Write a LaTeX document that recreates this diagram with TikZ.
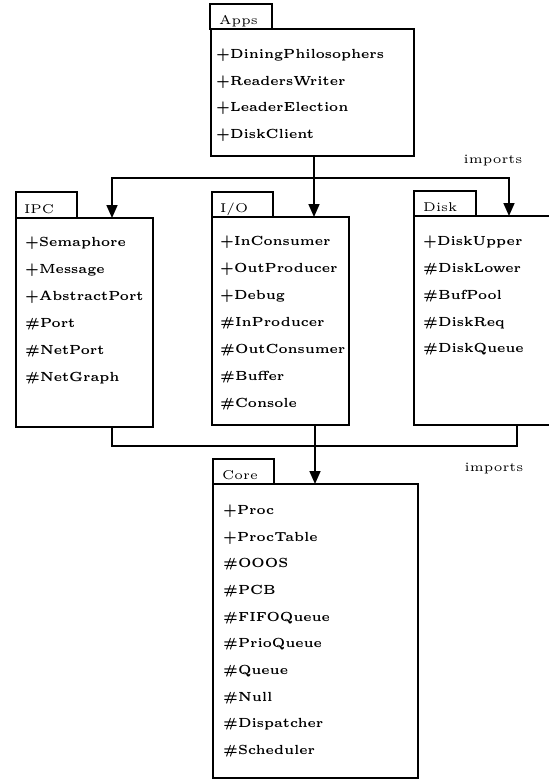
\documentclass[tikz,border=0pt]{standalone}
\usepackage{graphicx}
\usetikzlibrary{arrows.meta,calc}

% Small-design-size Latin Modern, enlarged: wide, heavy letterforms
\newcommand\itemtext[1]{\scalebox{2.39}[2.64]{\fontsize{5}{6}\selectfont\bfseries #1}}
\newcommand\tabtext[1]{\scalebox{2.55}{\fontsize{5}{6}\selectfont #1}}

\tikzset{
  x=1pt, y=-1pt,
  pkgline/.style={line width=1.7pt},
  pkgbox/.style={draw, pkgline, inner sep=0pt, outer sep=0pt, anchor=north west},
  member/.style={anchor=base west, inner sep=0pt},
  tablabel/.style={anchor=base west, inner sep=0pt},
  note/.style={anchor=base, inner sep=0pt},
  conn/.style={pkgline},
  dep/.style={pkgline, -{Triangle[width=11pt,length=13pt]}},
}

\begin{document}
\begin{tikzpicture}
\useasboundingbox (0,0) rectangle (549,780);
\clip (0,0) rectangle (549,780);

% ---------------- Apps ----------------
\node[pkgbox, minimum width=62pt, minimum height=25pt] (appstab) at (210,4) {};
\node[pkgbox, fill=white, minimum width=203pt, minimum height=127pt] (apps) at (211,29) {};
\node[tablabel] (appsname) at (219,24) {\tabtext{Apps}};
\node[member] (a1) at (216,58)  {\itemtext{+DiningPhilosophers}};
\node[member] (a2) at (216,85)  {\itemtext{+ReadersWriter}};
\node[member] (a3) at (216,111) {\itemtext{+LeaderElection}};
\node[member] (a4) at (216,138) {\itemtext{+DiskClient}};

% ---------------- IPC ----------------
\node[pkgbox, minimum width=61pt, minimum height=26pt] (ipctab) at (16,192) {};
\node[pkgbox, fill=white, minimum width=137pt, minimum height=209pt] (ipc) at (16,218) {};
\node[tablabel] (ipcname) at (24,213) {\tabtext{IPC}};
\node[member] (p1) at (25,246) {\itemtext{+Semaphore}};
\node[member] (p2) at (25,273) {\itemtext{+Message}};
\node[member] (p3) at (25,300) {\itemtext{+AbstractPort}};
\node[member] (p4) at (25,327) {\itemtext{\#Port}};
\node[member] (p5) at (25,354) {\itemtext{\#NetPort}};
\node[member] (p6) at (25,381) {\itemtext{\#NetGraph}};

% ---------------- I/O ----------------
\node[pkgbox, minimum width=61pt, minimum height=25pt] (iotab) at (212,192) {};
\node[pkgbox, fill=white, minimum width=137pt, minimum height=208pt] (io) at (212,217) {};
\node[tablabel] (ioname) at (220,212) {\tabtext{I/O}};
\node[member] (i1) at (220,245) {\itemtext{+InConsumer}};
\node[member] (i2) at (220,272) {\itemtext{+OutProducer}};
\node[member] (i3) at (220,299) {\itemtext{+Debug}};
\node[member] (i4) at (220,326) {\itemtext{\#InProducer}};
\node[member] (i5) at (220,353) {\itemtext{\#OutConsumer}};
\node[member] (i6) at (220,380) {\itemtext{\#Buffer}};
\node[member] (i7) at (220,407) {\itemtext{\#Console}};

% ---------------- Disk ----------------
\node[pkgbox, minimum width=62pt, minimum height=25pt] (disktab) at (414,191) {};
\node[pkgbox, fill=white, minimum width=150pt, minimum height=209pt] (disk) at (414,216) {};
\node[tablabel] (diskname) at (423,211) {\tabtext{Disk}};
\node[member] (d1) at (423,245) {\itemtext{+DiskUpper}};
\node[member] (d2) at (423,272) {\itemtext{\#DiskLower}};
\node[member] (d3) at (423,299) {\itemtext{\#BufPool}};
\node[member] (d4) at (423,326) {\itemtext{\#DiskReq}};
\node[member] (d5) at (423,352) {\itemtext{\#DiskQueue}};

% ---------------- Core ----------------
\node[pkgbox, minimum width=61pt, minimum height=25pt] (coretab) at (213,459) {};
\node[pkgbox, fill=white, minimum width=205pt, minimum height=294pt] (core) at (213,484) {};
\node[tablabel] (corename) at (222,479) {\tabtext{Core}};
\node[member] (c1)  at (223,514) {\itemtext{+Proc}};
\node[member] (c2)  at (223,541) {\itemtext{+ProcTable}};
\node[member] (c3)  at (223,567) {\itemtext{\#OOOS}};
\node[member] (c4)  at (223,594) {\itemtext{\#PCB}};
\node[member] (c5)  at (223,621) {\itemtext{\#FIFOQueue}};
\node[member] (c6)  at (223,647) {\itemtext{\#PrioQueue}};
\node[member] (c7)  at (223,674) {\itemtext{\#Queue}};
\node[member] (c8)  at (223,701) {\itemtext{\#Null}};
\node[member] (c9)  at (223,727) {\itemtext{\#Dispatcher}};
\node[member] (c10) at (223,754) {\itemtext{\#Scheduler}};

% ---------------- imports: Apps -> IPC, I/O, Disk ----------------
\coordinate (appsout) at (314,156);
\coordinate (ipcin)   at (112,218);
\coordinate (ioin)    at (314,217);
\coordinate (diskin)  at (509,216);
\coordinate (upper)   at (314,178);
\draw[dep] (appsout) -- (ioin);
\draw[dep] (upper) -| (ipcin);
\draw[dep] (upper) -| (diskin);
\node[note] (imp1) at (493,163) {\tabtext{imports}};

% ---------------- imports: IPC, I/O, Disk -> Core ----------------
\coordinate (ipcout)  at (112,427);
\coordinate (ioout)   at (315,425);
\coordinate (diskout) at (517,425);
\coordinate (lower)   at (315,446);
\coordinate (corein)  at (315,484);
\draw[conn] (ipcout) |- (lower);
\draw[conn] (diskout) |- (lower);
\draw[dep] (ioout) -- (corein);
\node[note] (imp2) at (494,471) {\tabtext{imports}};
\end{tikzpicture}
\end{document}
